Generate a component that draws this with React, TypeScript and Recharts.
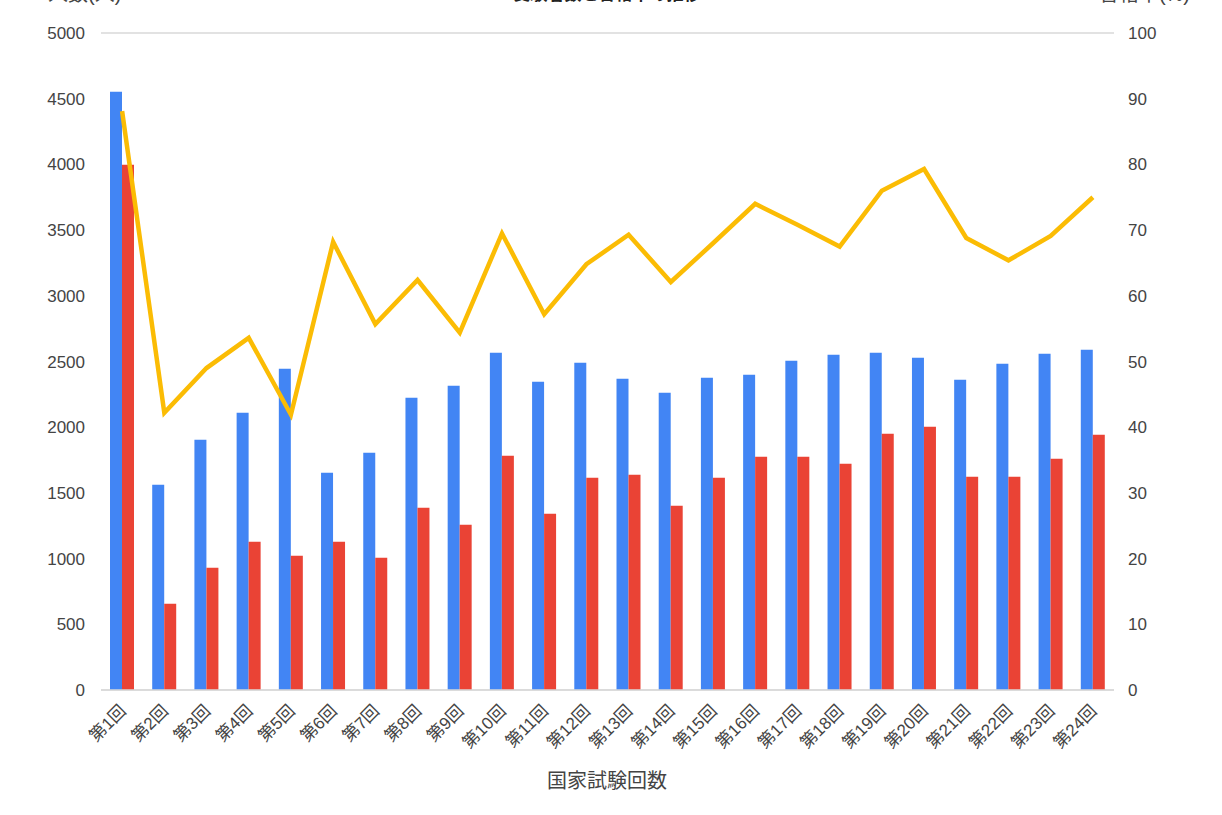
import React from "react";
import {
  ComposedChart,
  Bar,
  Line,
  XAxis,
  YAxis,
  CartesianGrid,
} from "recharts";

const rounds = [
  "第1回", "第2回", "第3回", "第4回", "第5回", "第6回", "第7回", "第8回",
  "第9回", "第10回", "第11回", "第12回", "第13回", "第14回", "第15回", "第16回",
  "第17回", "第18回", "第19回", "第20回", "第21回", "第22回", "第23回", "第24回",
];

// 受験者数
const examinees = [
  4552, 1562, 1904, 2110, 2444, 1653, 1805, 2224, 2315, 2566, 2346, 2490,
  2368, 2262, 2376, 2400, 2505, 2551, 2566, 2528, 2361, 2483, 2559, 2589,
];

// 合格者数
const passed = [
  3997, 656, 930, 1128, 1022, 1128, 1007, 1387, 1257, 1782, 1341, 1615,
  1638, 1402, 1615, 1775, 1775, 1722, 1950, 2003, 1623, 1623, 1760, 1943,
];

// 合格率(%)
const passRate = [
  88.1, 42.2, 49.0, 53.6, 41.9, 68.2, 55.7, 62.4, 54.4, 69.5, 57.2, 64.8,
  69.3, 62.1, 68.0, 74.0, 70.8, 67.5, 76.0, 79.3, 68.8, 65.4, 69.1, 75.0,
];

const leftTicks = [0, 500, 1000, 1500, 2000, 2500, 3000, 3500, 4000, 4500, 5000];
const rightTicks = [0, 10, 20, 30, 40, 50, 60, 70, 80, 90, 100];

const chartData = rounds.map((name, i) => ({
  name,
  examinees: examinees[i],
  passed: passed[i],
  rate: passRate[i],
}));

const FONT = "'Liberation Sans', Arial, 'Noto Sans CJK JP', sans-serif";
const TEXT = "#444444";

function RoundTick(props: any) {
  const { x, y, payload } = props;
  const tx = x + 5;
  const ty = y + 14;
  return (
    <text
      x={tx}
      y={ty}
      textAnchor="end"
      fill={TEXT}
      fontSize={17}
      fontFamily={FONT}
      transform={`rotate(-45 ${tx} ${ty})`}
    >
      {payload.value}
    </text>
  );
}

export default function App() {
  return (
    <div
      style={{
        position: "absolute",
        left: 0,
        top: 0,
        width: 1222,
        height: 815,
        background: "#fff",
        fontFamily: FONT,
        overflow: "hidden",
      }}
    >
      {/* titles, cut off at the top edge as in the source */}
      <div style={{ position: "absolute", left: 48, top: -22, fontSize: 20, color: TEXT }}>
        人数(人)
      </div>
      <div
        style={{
          position: "absolute",
          left: 0,
          width: 1214,
          top: -20,
          textAlign: "center",
          fontSize: 17,
          fontWeight: "bold",
          color: "#222",
        }}
      >
        受験者数と合格率の推移
      </div>
      <div style={{ position: "absolute", right: 32, top: -22, fontSize: 20, color: TEXT }}>
        合格率(%)
      </div>

      <ComposedChart
        width={1222}
        height={815}
        data={chartData}
        margin={{ top: 33, right: 0, bottom: 0, left: 0 }}
        barGap={0}
        barSize={12}
      >
        <CartesianGrid vertical={false} stroke="#d9d9d9" strokeWidth={1.3} />
        <XAxis
          dataKey="name"
          height={125}
          interval={0}
          tick={<RoundTick />}
          tickLine={false}
          axisLine={{ stroke: "#d9d9d9", strokeWidth: 1.3 }}
        />
        <YAxis
          yAxisId="left"
          width={101}
          domain={[0, 5000]}
          ticks={leftTicks}
          tickLine={false}
          axisLine={false}
          tickSize={0}
          tickMargin={16}
          tick={{ fill: TEXT, fontSize: 17, fontFamily: FONT }}
        />
        <YAxis
          yAxisId="right"
          orientation="right"
          width={108}
          domain={[0, 100]}
          ticks={rightTicks}
          tickLine={false}
          axisLine={false}
          tickSize={0}
          tickMargin={14}
          tick={{ fill: TEXT, fontSize: 17, fontFamily: FONT }}
        />
        <Bar yAxisId="left" dataKey="examinees" fill="#4285F4" isAnimationActive={false} />
        <Bar yAxisId="left" dataKey="passed" fill="#EA4335" isAnimationActive={false} />
        <Line
          yAxisId="right"
          type="linear"
          dataKey="rate"
          stroke="#FBBC04"
          strokeWidth={4.5}
          dot={false}
          activeDot={false}
          isAnimationActive={false}
        />
      </ComposedChart>

      <div
        style={{
          position: "absolute",
          left: 0,
          width: 1214,
          top: 765,
          textAlign: "center",
          fontSize: 20,
          color: TEXT,
        }}
      >
        国家試験回数
      </div>
    </div>
  );
}
